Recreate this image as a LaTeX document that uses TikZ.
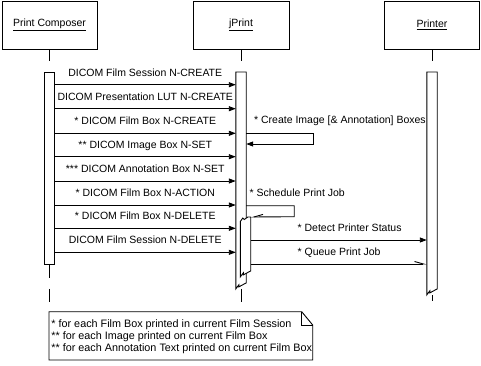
\documentclass[tikz,border=0pt]{standalone}
\usepackage{fontspec}
\setmainfont{Liberation Sans}
\usetikzlibrary{arrows.meta}
\newcommand\msgfont{\fontsize{10.5}{12}\selectfont}
\newcommand\notefont{\fontsize{10.8}{11.7}\selectfont}
\tikzset{
  every node/.append style={font=\msgfont, inner sep=0pt},
  head/.style={draw, minimum height=48pt},
  bar/.style={draw, fill=white, minimum width=9.5pt, anchor=north},
  barbox/.style={minimum width=9.5pt, anchor=north},
  call/.style={-{Triangle[length=7pt,width=5pt]}},
  async/.style={-{Straight Barb[harpoon,length=9pt,width=5pt]}},
  asyncback/.style={-{Straight Barb[harpoon,swap,length=9pt,width=5pt]}},
  lbl/.style={anchor=base, yshift=8.6pt},
  lblw/.style={anchor=base west, yshift=8.6pt},
  notetext/.style={font=\notefont, align=left},
}

\begin{document}
\begin{tikzpicture}[x=1pt,y=-1pt,line width=0.9pt]
  \useasboundingbox (0,0) rectangle (481,365);
  % --- objects ---
  \node[head, minimum width=95pt] (pc) at (49.5,25) {\underline{Print Composer}};
  \node[head, minimum width=96pt] (jp) at (241,25) {\underline{jPrint}};
  \node[head, minimum width=95pt] (pr) at (432,25) {\underline{Printer}};
  \draw (pc.south) -- ++(0,12);
  \draw (jp.south) -- ++(0,12);
  \draw (pr.south) -- ++(0,12);
  % --- activations ---
  \node[bar, minimum height=192pt] (pcbar) at (49.5,72) {};
  \draw[dash pattern=on 13pt off 11pt] (pcbar.south) -- ++(0,37);
  \node[barbox, minimum height=216pt] (jpbar) at (241,72) {};
  \draw[fill=white] (jpbar.south west) -- (jpbar.north west) -- (jpbar.north east)
    -- ([yshift=6pt]jpbar.south east) -- ([xshift=3pt,yshift=2pt]jpbar.south west)
    -- ([xshift=3pt,yshift=4pt]jpbar.south west) -- cycle;
  \draw (jpbar.south) -- ++(0,13);
  \node[barbox, minimum height=59pt] (jpsub) at (245.5,217) {};
  \draw[fill=white] ([yshift=-4.5pt]jpsub.north west) -- ++(2.5,-3.5) -- ++(1.5,1.5)
    -- ++(3.5,-2.5) -- (jpsub.north east) -- ([yshift=6pt]jpsub.south east)
    -- ([xshift=3pt,yshift=2pt]jpsub.south west) -- ([xshift=3pt,yshift=4pt]jpsub.south west)
    -- (jpsub.south west) -- cycle;
  \node[barbox, minimum height=222pt] (prbar) at (432,72) {};
  \draw[fill=white] (prbar.south west) -- (prbar.north west) -- (prbar.north east)
    -- ([yshift=6pt]prbar.south east) -- ([xshift=3pt,yshift=2pt]prbar.south west)
    -- ([xshift=3pt,yshift=4pt]prbar.south west) -- cycle;
  \draw (prbar.south) -- ++(0,6);
  % --- Print Composer -> jPrint ---
  \foreach \y/\msgtext [count=\i] in {84.7/DICOM Film Session N-CREATE,
      108.7/DICOM Presentation LUT N-CREATE, 133.3/* DICOM Film Box N-CREATE,
      156.7/** DICOM Image Box N-SET, 181/*** DICOM Annotation Box N-SET,
      205/* DICOM Film Box N-ACTION, 228.3/* DICOM Film Box N-DELETE,
      252.3/DICOM Film Session N-DELETE}{
    \draw[call] (pcbar.east |- 0,\y) -- (jpbar.west |- 0,\y)
      node[lbl, midway] (m\i) {\msgtext};}
  % --- jPrint self calls ---
  \draw[call] (jpbar.east |- 0,133.3)
      node[anchor=base west, xshift=7.5pt, yshift=9.4pt] (boxes) {* Create Image [\& Annotation] Boxes}
    -- ++(67,0) -- ++(0,10.7) -- (jpbar.east |- 0,144);
  \draw[asyncback] (jpbar.east |- 0,205.7)
      node[anchor=base west, xshift=3pt, yshift=9.2pt] (sched) {* Schedule Print Job}
    -- ++(48,0) -- ++(0,11) -- (jpsub.north east);
  % --- jPrint -> Printer ---
  \draw[call] (jpsub.east |- 0,240) -- (prbar.west |- 0,240)
    node[lblw, pos=0.264] (detect) {* Detect Printer Status};
  \draw[async] (jpsub.east |- 0,264) -- (prbar.west |- 0,264)
    node[lblw, pos=0.264] (queue) {* Queue Print Job};
  % --- note ---
  \draw (49,311.7) -- (301.7,311.7) -- (312.7,325) -- (312.7,360) -- (49,360) -- cycle;
  \draw (301.7,311.7) -- (301.7,325) -- (312.7,325);
  \node[notetext, anchor=north west] (note) at (51,319.5)
    {* for each Film Box printed in current Film Session\\
     ** for each Image printed on current Film Box\\
     ** for each Annotation Text printed on current Film Box};
\end{tikzpicture}
\end{document}
